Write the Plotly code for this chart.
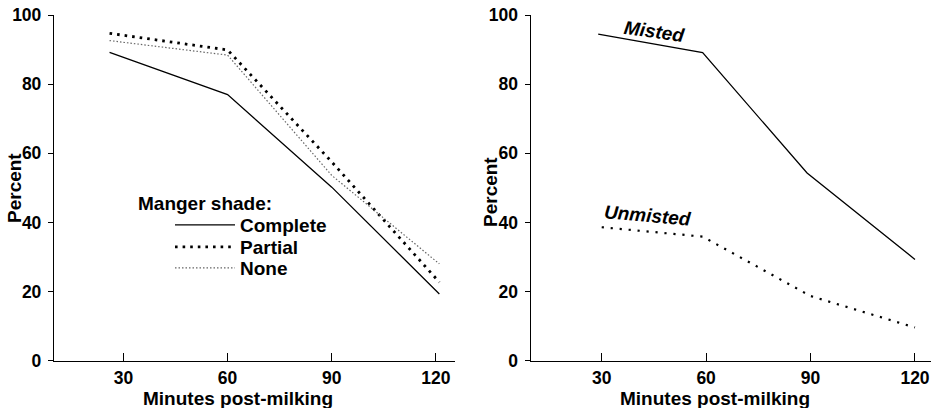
import plotly.graph_objects as go
from plotly.subplots import make_subplots

# ---- data ----
minutes_shade = [26, 60, 90, 121]
complete = [89.2, 77.0, 50.2, 19.3]
partial = [94.7, 89.9, 57.5, 22.7]
none_shade = [92.6, 88.4, 53.6, 28.0]

minutes_mist = [29, 59, 89, 120]
misted = [94.5, 89.1, 54.3, 29.3]
minutes_unmist = [30, 59, 90, 120]
unmisted = [38.6, 35.9, 18.7, 9.6]

x_ticks = [30, 60, 90, 120]
y_ticks = [0, 20, 40, 60, 80, 100]

FONT = "Liberation Sans"
FS = 19
TFS = 17.5
fig = make_subplots(rows=1, cols=2)

fig.add_trace(go.Scatter(x=minutes_shade, y=complete, mode="lines", name="Complete",
                         legend="legend",
                         line=dict(color="black", width=1.3)), 1, 1)
fig.add_trace(go.Scatter(x=minutes_shade, y=partial, mode="lines", name="Partial",
                         legend="legend2",
                         line=dict(color="black", width=2.8, dash="2.6px,5px")), 1, 1)
fig.add_trace(go.Scatter(x=minutes_shade, y=none_shade, mode="lines", name="None",
                         legend="legend3",
                         line=dict(color="#666666", width=1.2, dash="1.5px,2px")), 1, 1)

fig.add_trace(go.Scatter(x=minutes_mist, y=misted, mode="lines", name="Misted",
                         showlegend=False, line=dict(color="black", width=1.3)), 1, 2)
fig.add_trace(go.Scatter(x=minutes_unmist, y=unmisted, mode="lines", name="Unmisted",
                         showlegend=False, line=dict(color="black", width=2.2, dash="2.2px,6.8px")), 1, 2)

tickfont = dict(family=FONT, size=TFS, color="black", weight="bold")
for c, dom, xr in [(1, [0.058, 0.4887], [10, 125.5]), (2, [0.570, 1.0], [9.6, 124.6])]:
    fig.update_xaxes(row=1, col=c, domain=dom, range=xr, tickvals=x_ticks,
                     showline=True, linecolor="black", linewidth=1.3,
                     ticks="inside", ticklen=8, tickcolor="black", tickwidth=1.3,
                     showgrid=False, zeroline=False, tickfont=tickfont,
                     ticklabelstandoff=1, automargin=False)
    fig.update_yaxes(row=1, col=c, domain=[0.116, 0.9632], range=[0, 100], tickvals=y_ticks,
                     showline=True, linecolor="black", linewidth=1.3,
                     ticks="outside", ticklen=5, tickcolor="black", tickwidth=1.3,
                     showgrid=False, zeroline=False, tickfont=tickfont,
                     ticklabelstandoff=3, automargin=False)

titlefont = dict(family=FONT, size=FS, color="black", weight="bold")
common = dict(showarrow=False, font=titlefont, xanchor="center", yanchor="middle")
ann = [
    dict(text="Minutes post-milking", xref="paper", yref="paper",
         x=237.5/931, y=1-398/408, **common),
    dict(text="Minutes post-milking", xref="paper", yref="paper",
         x=715/931, y=1-398/408, **common),
    dict(text="Percent", xref="paper", yref="paper", textangle=-90,
         x=15/931, y=1-188/408, **common),
    dict(text="Percent", xref="paper", yref="paper", textangle=-90,
         x=490/931, y=1-192/408, **common),
    dict(text="Manger shade:", xref="paper", yref="paper",
         x=205/931, y=1-203/408, **common),
    dict(text="<i>Misted</i>", xref="x2", yref="y2", x=45.3, y=95.3,
         textangle=8, **common),
    dict(text="<i>Unmisted</i>", xref="x2", yref="y2", x=43.3, y=41.9,
         textangle=5, **common),
]

legfont = dict(family=FONT, size=FS, color="black", weight="bold")
def leg(ypx):
    return dict(x=170/931, y=1-ypx/408, xanchor="left", yanchor="middle",
                font=legfont, bgcolor="rgba(0,0,0,0)", itemwidth=60)

fig.update_layout(
    template="none",
    width=931, height=408, margin=dict(l=0, r=0, t=0, b=0, autoexpand=False),
    paper_bgcolor="white", plot_bgcolor="white",
    annotations=ann,
    showlegend=True,
    legend=leg(225), legend2=leg(247), legend3=leg(268),
    font=dict(family=FONT, color="black"),
)

fig.write_html("out.html", config={"displayModeBar": False},
               post_script="document.body.style.margin='0px';document.body.style.overflow='hidden';")
